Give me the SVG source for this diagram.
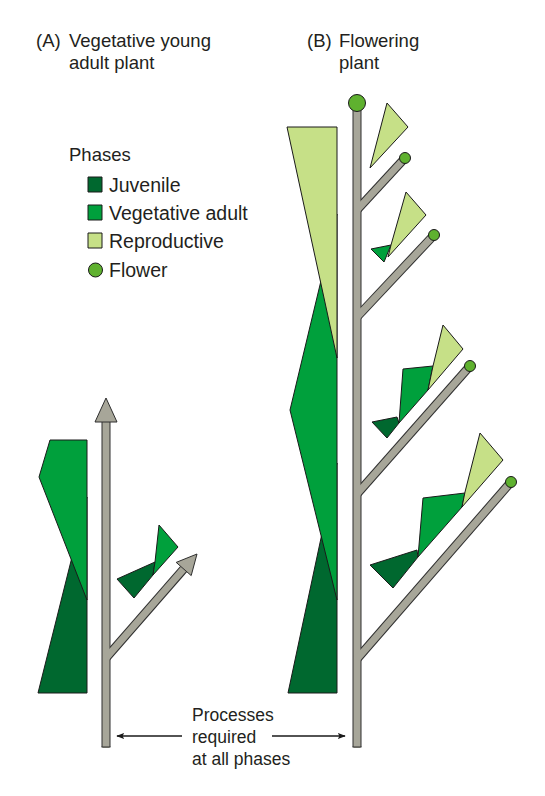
<svg xmlns="http://www.w3.org/2000/svg" width="545" height="796" viewBox="0 0 545 796">
<defs>
<style>
text{font-family:"Liberation Sans",Arial,sans-serif;fill:#231f20;font-size:18.5px}
.lg{font-size:19.5px}
.lb{font-size:17.5px}
.juv{fill:#00682f;stroke:#1a1a1a;stroke-width:1;stroke-linejoin:round}
.veg{fill:#00a03c;stroke:#1a1a1a;stroke-width:1;stroke-linejoin:round}
.rep{fill:#c6e087;stroke:#1a1a1a;stroke-width:1;stroke-linejoin:round}
.flw{fill:#5fb12f;stroke:#1a1a1a;stroke-width:1}
.so{stroke:#2e2e2e;stroke-width:9;fill:none}
.si{stroke:#a7a699;stroke-width:7;fill:none}
.ah{fill:#a7a699;stroke:#2e2e2e;stroke-width:1;stroke-linejoin:round}
.ln{stroke:#1a1a1a;stroke-width:1.5;fill:none}
</style>
<marker id="arr" viewBox="0 0 10 10" refX="9" refY="5" markerWidth="8" markerHeight="8" markerUnits="userSpaceOnUse" orient="auto-start-reverse">
<path d="M0,1 L10,5 L0,9 L2,5 Z" fill="#1a1a1a"/>
</marker>
</defs>

<g id="titleA">
<text x="36" y="47">(A)</text>
<text x="69" y="47">Vegetative young</text>
<text x="69" y="69">adult plant</text>
</g>
<g id="titleB">
<text x="307" y="47">(B)</text>
<text x="339" y="47">Flowering</text>
<text x="339" y="69">plant</text>
</g>

<g id="legend">
<text x="69" y="161">Phases</text>
<rect class="juv" x="88" y="177" width="14" height="15"/>
<text class="lg" x="109" y="192">Juvenile</text>
<rect class="veg" x="88" y="205" width="14" height="15"/>
<text class="lg" x="109" y="220">Vegetative adult</text>
<rect class="rep" x="88" y="233" width="14" height="15"/>
<text class="lg" x="109" y="248">Reproductive</text>
<circle class="flw" cx="95.5" cy="270" r="7"/>
<text class="lg" x="109" y="277">Flower</text>
</g>

<g id="plantA">
<g id="phasesA">
<polygon class="juv" points="87,497 38,693 87,693"/>
<polygon class="veg" points="50,440 87,440 87,600 39,477"/>
</g>
<g id="stemA">
<line class="so" x1="106" y1="747" x2="106" y2="421"/>
<line class="so" x1="106" y1="658" x2="183.7" y2="569"/>
<line class="si" x1="106" y1="748" x2="106" y2="420"/>
<line class="si" x1="106" y1="658" x2="184" y2="568.5"/>
<line x1="101.5" y1="747" x2="110.5" y2="747" stroke="#2e2e2e" stroke-width="1"/>
<polygon class="ah" points="106,398 95,422 117,422"/>
<polygon class="ah" points="197,554 176.2,562.4 191.2,575.6"/>
</g>
<g id="leafA">
<polygon class="juv" points="117,579 155,562 153,575 134,598"/>
<polygon class="veg" points="159,525 178,547 153,575 155,562"/>
</g>
</g>

<g id="plantB">
<g id="phasesB">
<polygon class="juv" points="337,463 288,693 337,693"/>
<polygon class="veg" points="337,214 290,410 337,600"/>
<polygon class="rep" points="287,127 337,127 337,358"/>
</g>
<g id="stemB">
<line class="so" x1="357" y1="747" x2="357" y2="104"/>
<line class="so" x1="357" y1="210" x2="405" y2="158"/>
<line class="so" x1="357" y1="317" x2="434" y2="235"/>
<line class="so" x1="357" y1="494" x2="470" y2="366"/>
<line class="so" x1="357" y1="659" x2="511" y2="482"/>
<line class="si" x1="357" y1="748" x2="357" y2="104"/>
<line class="si" x1="357" y1="210" x2="405" y2="158"/>
<line class="si" x1="357" y1="317" x2="434" y2="235"/>
<line class="si" x1="357" y1="494" x2="470" y2="366"/>
<line class="si" x1="357" y1="659" x2="511" y2="482"/>
<line x1="352.5" y1="747" x2="361.5" y2="747" stroke="#2e2e2e" stroke-width="1"/>
<circle class="flw" cx="357" cy="103" r="8.5"/>
<circle class="flw" cx="405" cy="158" r="5.5"/>
<circle class="flw" cx="434" cy="235" r="5.5"/>
<circle class="flw" cx="470" cy="366" r="5.5"/>
<circle class="flw" cx="511" cy="482" r="5.5"/>
</g>
<g id="leafB1">
<polygon class="rep" points="387,103 408,127 370,168"/>
</g>
<g id="leafB2">
<polygon class="veg" points="371,249 391,245 384,262"/>
<polygon class="rep" points="406,192 426,215 388,257 391,245"/>
</g>
<g id="leafB3">
<polygon class="juv" points="372,422 397,417 399,423 387,438"/>
<polygon class="veg" points="403,369 433,366 428,390 399,423"/>
<polygon class="rep" points="443,325 463,349 428,390 433,366"/>
</g>
<g id="leafB4">
<polygon class="juv" points="370,565 417,550 418,557 393,588"/>
<polygon class="veg" points="423,498 465,493 462,507 418,557"/>
<polygon class="rep" points="480,433 503,460 462,507 465,492"/>
</g>
</g>

<g id="connectors">
<line class="ln" x1="182" y1="736" x2="117" y2="736" marker-end="url(#arr)"/>
<line class="ln" x1="272" y1="736" x2="345" y2="736" marker-end="url(#arr)"/>
</g>
<g id="label">
<text class="lb" x="192" y="721">Processes</text>
<text class="lb" x="192" y="743">required</text>
<text class="lb" x="192" y="765">at all phases</text>
</g>
</svg>
